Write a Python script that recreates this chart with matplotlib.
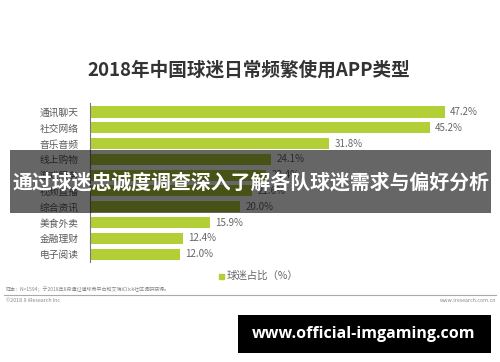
import matplotlib
matplotlib.use('Agg')
import matplotlib.pyplot as plt
from matplotlib.patches import Rectangle

plt.rcParams['font.family'] = ['Noto Sans CJK SC', 'DejaVu Sans']

# data
categories = ['通讯聊天', '社交网络', '音乐音频', '线上购物', '游戏服务', '视频直播',
              '综合资讯', '美食外卖', '金融理财', '电子阅读']
values = [47.2, 45.2, 31.8, 24.1, 23.4, 21.6, 20.0, 15.9, 12.4, 12.0]
title = '2018年中国球迷日常频繁使用APP类型'
legend_label = '球迷占比（%）'
overlay_text = '通过球迷忠诚度调查深入了解各队球迷需求与偏好分析'
watermark = 'www.official-imgaming.com'

W, H = 500, 362
green = '#b3cf38'
fig = plt.figure(figsize=(W / 100, H / 100), dpi=100)

def fx(px):
    return px / W

def fy(py):
    return 1 - py / H

ax = fig.add_axes([fx(90), fy(262), fx(380), 159 / H])
y = list(range(len(categories)))
ax.barh(y, values, height=0.7, color=green)
ax.set_ylim(9.5, -0.57)
ax.set_xlim(0, 380 / 7.52)
for yi, v in zip(y, values):
    ax.text(v + 0.7, yi, f'{v:.1f}%', va='center', ha='left', fontsize=7, color='#666666')
ax.set_yticks(y)
ax.set_yticklabels(categories, fontsize=7, color='#5a5a5a')
ax.tick_params(axis='y', length=0, pad=8)
ax.set_xticks([])
for s in ['top', 'right', 'bottom']:
    ax.spines[s].set_visible(False)
ax.spines['left'].set_color('#777777')
ax.spines['left'].set_linewidth(0.8)

fig.text(fx(249), fy(70), title, ha='center', va='center', fontsize=13.4,
         fontweight='bold', color='#333333')

# legend
fig.patches.append(Rectangle((fx(219), fy(279)), fx(5), 5 / H, color=green,
                             transform=fig.transFigure))
fig.text(fx(227), fy(276), legend_label, ha='left', va='center', fontsize=7.5, color='#666666')

# footer
fig.text(fx(6), fy(289), '样本：N=1594；于2018年8月通过懂球帝平台和艾瑞iClick社区调研获得。',
         ha='left', va='center', fontsize=3.6, color='#888888')
fig.add_artist(plt.Line2D([fx(4), fx(496)], [fy(295), fy(295)], color='#aaaaaa', lw=0.8))
fig.text(fx(6), fy(301), '©2018.9 iResearch Inc', ha='left', va='center', fontsize=3.8, color='#888888')
fig.text(fx(496), fy(301), 'www.iresearch.com.cn', ha='right', va='center', fontsize=3.8, color='#888888')

# overlay band
fig.patches.append(Rectangle((fx(10), fy(213)), fx(481), 63 / H, facecolor='black', alpha=0.6,
                             edgecolor='none', transform=fig.transFigure, zorder=10))
fig.text(fx(251), fy(182), overlay_text, ha='center', va='center', fontsize=14.3,
         fontweight='bold', color='white', zorder=11)

# watermark box
fig.patches.append(Rectangle((fx(238), fy(353)), fx(253), 38 / H, facecolor='black',
                             edgecolor='none', transform=fig.transFigure, zorder=10))
fig.text(fx(364), fy(334), watermark, ha='center', va='center', fontsize=11.5,
         fontweight='bold', color='white', family=['Open Sans', 'DejaVu Sans'], zorder=11)

fig.savefig('out.png', dpi=100)
